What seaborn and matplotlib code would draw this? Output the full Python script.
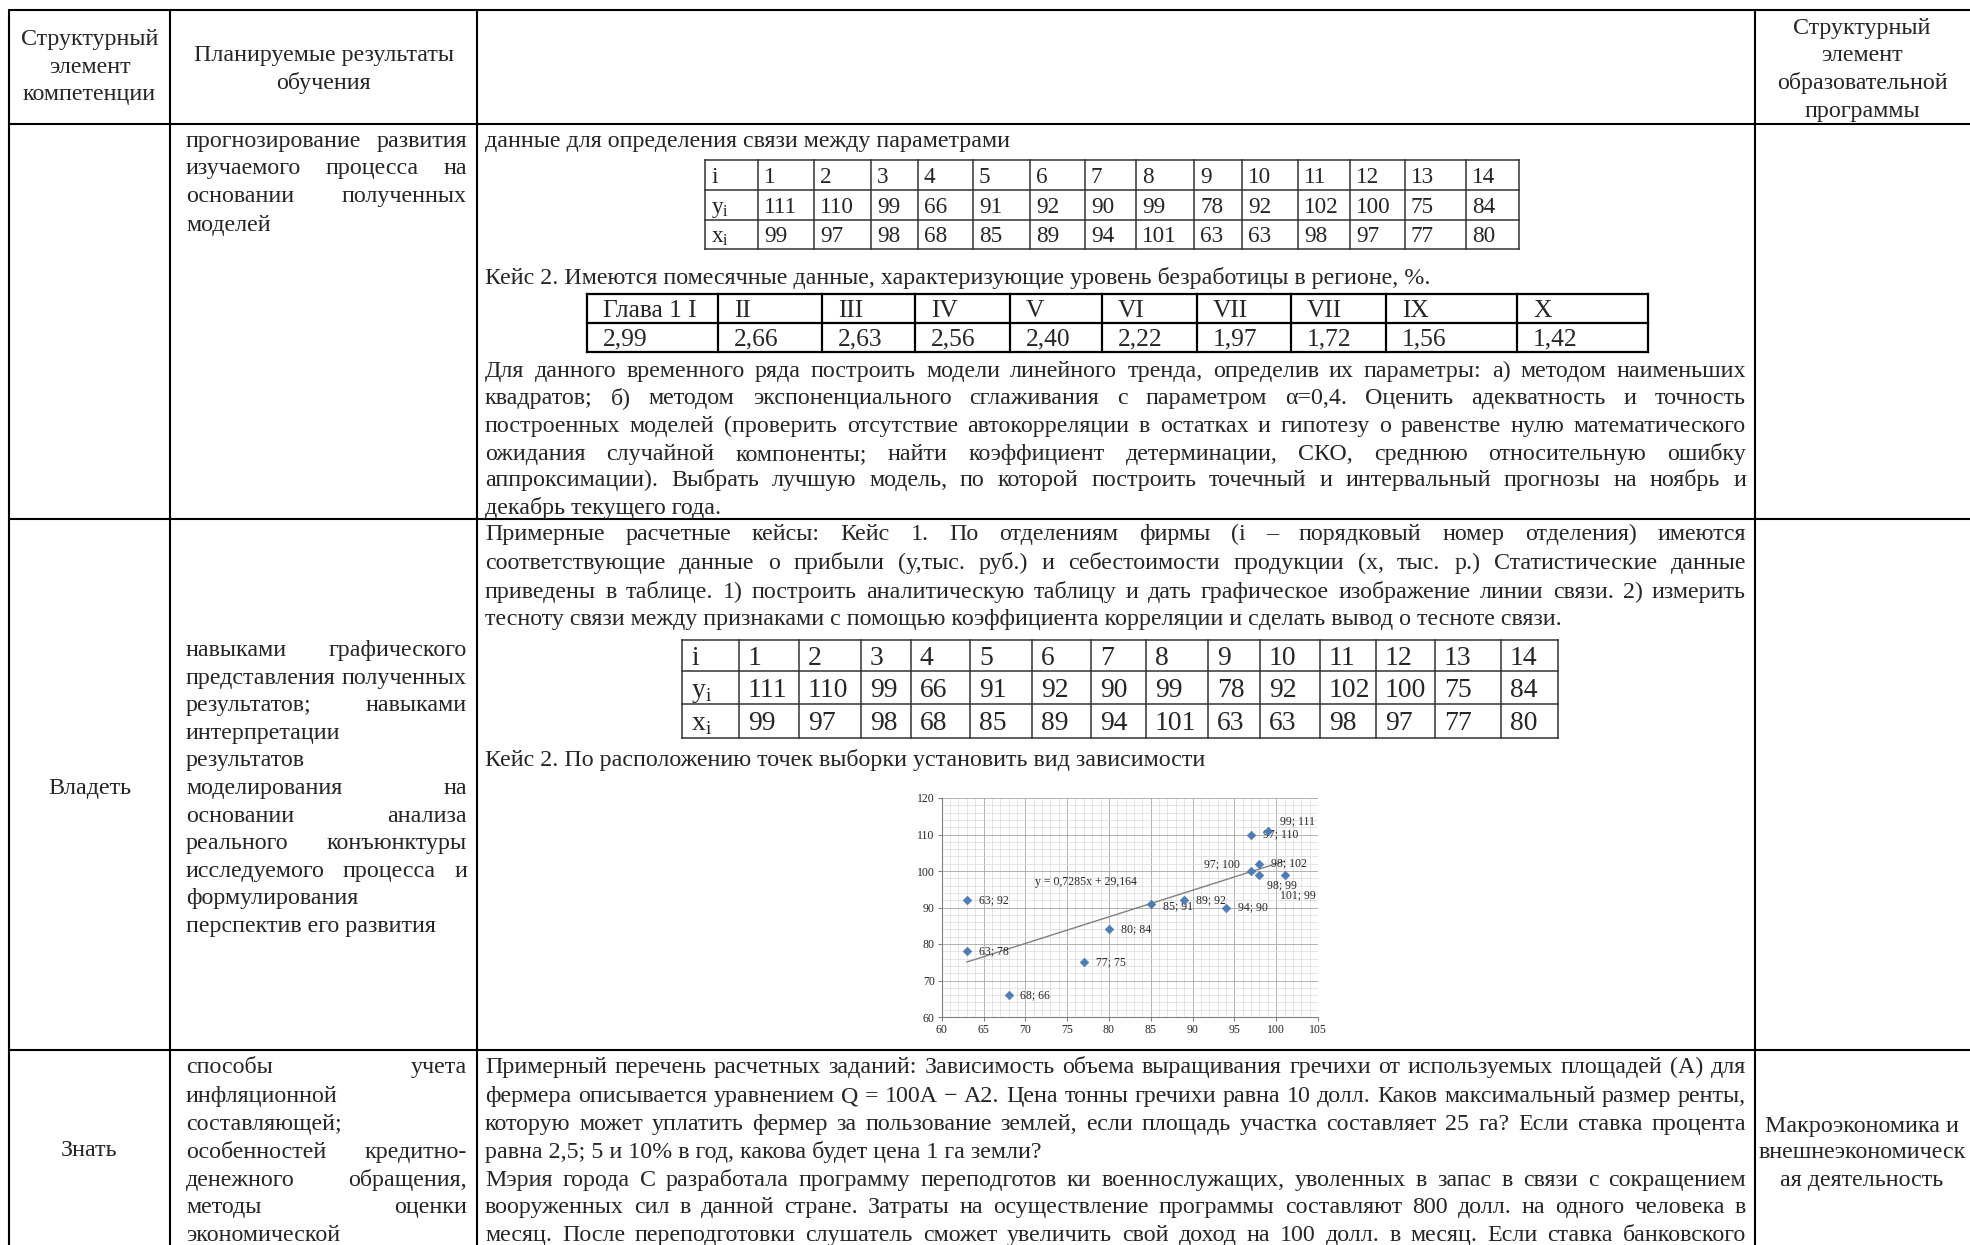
import numpy as np
import matplotlib
matplotlib.use("Agg")
import matplotlib.pyplot as plt
from matplotlib.ticker import MultipleLocator
import seaborn as sns

# ---- data ---------------------------------------------------------------
# Case 1: branches of the firm, profit (y) and cost of production (x)
branch_no = list(range(1, 15))
profit_y = [111, 110, 99, 66, 91, 92, 90, 99, 78, 92, 102, 100, 75, 84]
cost_x = [99, 97, 98, 68, 85, 89, 94, 101, 63, 63, 98, 97, 77, 80]

# Case 2: monthly unemployment rate, %
month_labels = ["Глава 1 I", "II", "III", "IV", "V", "VI", "VII", "VII", "IX", "X"]
unemployment = [2.99, 2.66, 2.63, 2.56, 2.40, 2.22, 1.97, 1.72, 1.56, 1.42]

x_ticks = list(range(60, 106, 5))
y_ticks = list(range(60, 121, 10))

# ---- texts of the table (line, justified) -------------------------------
head_left = ["Структурный", "элемент", "компетенции"]
head_mid = ["Планируемые результаты", "обучения"]
head_right = ["Структурный", "элемент", "образовательной", "программы"]

r1_result = [("прогнозирование развития", True), ("изучаемого процесса на", True),
             ("основании полученных", True), ("моделей", False)]
r1_intro = "данные для определения связи между параметрами"
r1_case2 = "Кейс 2. Имеются помесячные данные, характеризующие уровень безработицы в регионе, %."
r1_task = [
    ("Для данного временного ряда построить модели линейного тренда, определив их параметры: а) методом наименьших", True),
    ("квадратов; б) методом экспоненциального сглаживания с параметром α=0,4. Оценить адекватность и точность", True),
    ("построенных моделей (проверить отсутствие автокорреляции в остатках и гипотезу о равенстве нулю математического", True),
    ("ожидания случайной компоненты; найти коэффициент детерминации, СКО, среднюю относительную ошибку", True),
    ("аппроксимации). Выбрать лучшую модель, по которой построить точечный и интервальный прогнозы на ноябрь и", True),
    ("декабрь текущего года.", False),
]

r2_element = "Владеть"
r2_result = [("навыками графического", True), ("представления полученных", True),
             ("результатов; навыками", True), ("интерпретации", False), ("результатов", False),
             ("моделирования на", True), ("основании анализа", True), ("реального конъюнктуры", True),
             ("исследуемого процесса и", True), ("формулирования", False), ("перспектив его развития", False)]
r2_task = [
    ("Примерные расчетные кейсы: Кейс 1. По отделениям фирмы (i – порядковый номер отделения) имеются", True),
    ("соответствующие данные о прибыли (у,тыс. руб.) и себестоимости продукции (х,  тыс. р.) Статистические данные", True),
    ("приведены в таблице. 1) построить аналитическую таблицу и дать графическое изображение линии связи. 2) измерить", True),
    ("тесноту связи между признаками с помощью коэффициента корреляции и сделать вывод о тесноте связи.", False),
]
r2_case2 = "Кейс 2. По расположению точек выборки установить вид зависимости"

r3_element = "Знать"
r3_result = [("способы учета", True), ("инфляционной", False), ("составляющей;", False),
             ("особенностей кредитно-", True), ("денежного обращения,", True), ("методы оценки", True),
             ("экономической", False)]
r3_task = [
    ("Примерный перечень расчетных заданий: Зависимость объема выращивания гречихи от используемых площадей (А) для", True),
    ("фермера описывается уравнением Q = 100A − A2. Цена тонны гречихи равна 10 долл. Каков максимальный размер ренты,", True),
    ("которую может уплатить фермер за пользование землей, если площадь участка составляет 25 га? Если ставка процента", True),
    ("равна 2,5; 5 и 10% в год, какова будет цена 1 га земли?", False),
    ("Мэрия города С разработала программу переподготов ки военнослужащих, уволенных в запас в связи с сокращением", True),
    ("вооруженных сил в данной стране. Затраты на осуществление программы составляют 800 долл. на одного человека в", True),
    ("месяц. После переподготовки слушатель сможет увеличить свой доход на 100 долл. в месяц. Если ставка банковского", True),
]
r3_program = ["Макроэкономика и", "внешнеэкономическ", "ая деятельность"]

# ---- page ---------------------------------------------------------------
sns.set_style("white")
plt.rcParams["font.family"] = ["Liberation Serif", "DejaVu Serif"]
plt.rcParams["mathtext.fontset"] = "custom"
plt.rcParams["mathtext.rm"] = "Liberation Serif"

W, H = 1970, 1245
fig = plt.figure(figsize=(W / 100, H / 100), dpi=100)
ax = fig.add_axes([0, 0, 1, 1])
ax.set_xlim(0, W)
ax.set_ylim(H, 0)
ax.axis("off")
renderer = fig.canvas.get_renderer()


def text_w(s, size):
    t = ax.text(0, 0, s, fontsize=size)
    w = t.get_window_extent(renderer).width
    t.remove()
    return w


# body size chosen so the "Кейс 2" line has the width it has on the scan
BODY = 17 * 947 / text_w(r1_case2, 17)
PX = 100 / 72


def draw_lines(lines, x0, x1, ys, size=None):
    size = size or BODY
    for (line, just), y in zip(lines, ys):
        base = y + 0.25 * size * PX
        words = line.split()
        if not just or len(words) < 2:
            ax.text(x0, base, line, fontsize=size, va="baseline")
            continue
        widths = [text_w(w, size) for w in words]
        gap = (x1 - x0 - sum(widths)) / (len(words) - 1)
        xx = x0
        for w, wd in zip(words, widths):
            ax.text(xx, base, w, fontsize=size, va="baseline")
            xx += wd + gap


def draw_centered(lines, cx, ys, size=None):
    size = size or BODY
    for line, y in zip(lines, ys):
        ax.text(cx, y + 0.25 * size * PX, line, fontsize=size, ha="center", va="baseline")


def draw_table(cells, xs, ys, size, pad, lw, color="black"):
    for xv in xs:
        ax.plot([xv, xv], [ys[0], ys[-1]], color=color, lw=lw, solid_capstyle="projecting")
    for yv in ys:
        ax.plot([xs[0], xs[-1]], [yv, yv], color=color, lw=lw, solid_capstyle="projecting")
    for r, row in enumerate(cells):
        yc = (ys[r] + ys[r + 1]) / 2 + 0.33 * size * PX
        for c, s in enumerate(row):
            ax.text(xs[c] + pad, yc, s, fontsize=size, va="baseline")


# main frame
col_x = [9, 170, 477, 1755]
row_y = [10, 124, 519, 1050]
for xv in col_x:
    ax.plot([xv, xv], [row_y[0], H + 5], color="black", lw=1.5)
for yv in row_y:
    ax.plot([col_x[0], W], [yv, yv], color="black", lw=1.5)

# header
draw_centered(head_left, 89.5, [39, 67, 94])
draw_centered(head_mid, 323.5, [55, 83])
draw_centered(head_right, 1862, [28, 55, 83, 111])

# ---- row 1 --------------------------------------------------------------
draw_lines(r1_result, 186, 467, [141, 168, 196, 225])
draw_lines([(r1_intro, False)], 485, 1746, [141])

case_rows = [["i"] + [str(n) for n in branch_no],
             [r"y$_\mathregular{i}$"] + [str(v) for v in profit_y],
             [r"x$_\mathregular{i}$"] + [str(v) for v in cost_x]]
t1_x = [705, 758, 814, 871, 918, 973, 1030, 1085, 1136, 1194, 1242, 1298, 1350, 1405, 1466, 1519]
draw_table(case_rows, t1_x, [160, 190, 220, 249], BODY * 0.97, 6, 1.1, color="#333333")

draw_lines([(r1_case2, False)], 485, 1746, [278])
month_rows = [month_labels, [f"{v:.2f}".replace(".", ",") for v in unemployment]]
t2_x = [587, 718, 822, 915, 1010, 1102, 1197, 1291, 1386, 1517, 1648]
draw_table(month_rows, t2_x, [294, 323, 352], BODY * 1.06, 16, 1.6)

draw_lines(r1_task, 485, 1746, [371, 398, 426, 454, 480, 508])

# ---- row 2 --------------------------------------------------------------
draw_centered([r2_element], 89.5, [788])
draw_lines(r2_result, 186, 467, [650 + 27.6 * k for k in range(len(r2_result))])
draw_lines(r2_task, 485, 1746, [534, 563, 592, 619])
t1b_x = [682, 739, 799, 861, 911, 970, 1032, 1091, 1146, 1208, 1260, 1320, 1376, 1435, 1501, 1558]
draw_table(case_rows, t1b_x, [640, 671, 704, 738], BODY * 1.15, 9, 1.1, color="#333333")
draw_lines([(r2_case2, False)], 485, 1746, [760])

# scatter chart of case 1
cax = fig.add_axes([941.7 / W, 1 - 1017 / H, (1318 - 941.7) / W, (1017 - 798) / H])
xs = np.array(cost_x, dtype=float)
ys = np.array(profit_y, dtype=float)
sns.regplot(x=xs, y=ys, ax=cax, scatter=False, ci=None, truncate=True,
            line_kws=dict(color="#808080", lw=1.0))
sns.scatterplot(x=xs, y=ys, ax=cax, marker="D", s=20, color="#4a7ebb",
                edgecolor="#3f6fa8", linewidth=0.3, zorder=4)
slope, intercept = np.polyfit(xs, ys, 1)
eq = f"y = {slope:.4f}x + {intercept:.3f}".replace(".", ",")
cax.text(77.2, 97, eq, fontsize=8.5, ha="center", va="center", color="#262626")

label_offsets = {0: (9, 7, "left"), 2: (5.5, -7.5, "left"), 4: (8.5, -1.5, "left"),
                 7: (-3, -15, "left"), 11: (-8, 5, "right")}
for k, (px_, py_) in enumerate(zip(cost_x, profit_y)):
    dx, dy, ha = label_offsets.get(k, (8.5, 0, "left"))
    cax.annotate(f"{px_}; {py_}", (px_, py_), xytext=(dx, dy), textcoords="offset points",
                 fontsize=8.5, ha=ha, va="center", color="#262626")

cax.set_xlim(60, 105)
cax.set_ylim(60, 120)
cax.set_xticks(x_ticks)
cax.set_yticks(y_ticks)
cax.xaxis.set_minor_locator(MultipleLocator(1))
cax.yaxis.set_minor_locator(MultipleLocator(2))
cax.set_axisbelow(True)
cax.grid(which="major", color="#a6a6a6", lw=0.6)
cax.grid(which="minor", color="#d9d9d9", lw=0.5)
for side in ["top", "right"]:
    cax.spines[side].set_visible(False)
for side in ["left", "bottom"]:
    cax.spines[side].set_color("#808080")
    cax.spines[side].set_linewidth(0.8)
cax.tick_params(which="major", labelsize=8.5, length=3, color="#808080", labelcolor="#262626",
                bottom=True, left=True, pad=2)
cax.tick_params(which="minor", length=0)
cax.set_xlabel("")
cax.set_ylabel("")

# ---- row 3 --------------------------------------------------------------
draw_centered([r3_element], 89.5, [1150])
draw_lines(r3_result, 186, 467, [1067, 1096, 1124, 1152, 1180, 1207, 1235])
draw_lines(r3_task, 485, 1746, [1067, 1096, 1124, 1152, 1180, 1207, 1235])
draw_centered(r3_program, 1862, [1126, 1152, 1180])

fig.savefig("out.png", dpi=100, facecolor="white")
